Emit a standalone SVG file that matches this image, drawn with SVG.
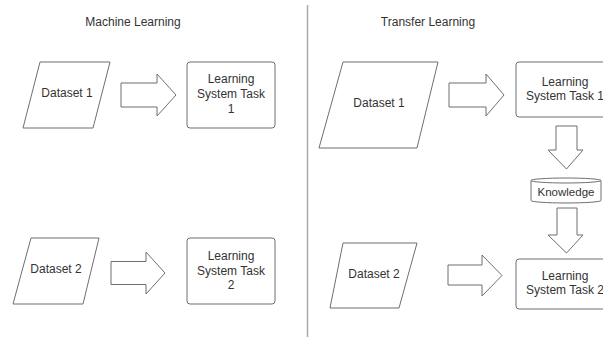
<svg xmlns="http://www.w3.org/2000/svg" width="603" height="337" viewBox="0 0 603 337">
<style>
.shape{fill:#fff;stroke:#6f6f6f;stroke-width:1;stroke-linejoin:round}
.t{font-family:"Liberation Sans",Arial,sans-serif;font-size:12px;fill:#333;text-anchor:middle}
.div{stroke:#aaa;stroke-width:1.5}
</style>
<rect width="603" height="337" fill="#fff"/>
<line class="div" x1="307.5" y1="5" x2="307.5" y2="337"/>
<text class="t" x="133" y="26">Machine Learning</text>
<text class="t" x="428" y="26">Transfer Learning</text>

<g id="ml-dataset1">
<path class="shape" d="M40,62 H110 L93,128 H23 Z"/>
<text class="t" x="67" y="97">Dataset 1</text>
</g>
<g id="ml-task1">
<rect class="shape" x="187" y="62" width="88" height="66" rx="3"/>
<text class="t" x="231" y="83">Learning</text>
<text class="t" x="231" y="98">System Task</text>
<text class="t" x="231" y="113">1</text>
</g>
<g id="ml-dataset2">
<path class="shape" d="M31,238 H99 L83,304 H13 Z"/>
<text class="t" x="56" y="273">Dataset 2</text>
</g>
<g id="ml-task2">
<rect class="shape" x="187" y="238" width="88" height="66" rx="3"/>
<text class="t" x="231" y="260">Learning</text>
<text class="t" x="231" y="274.5">System Task</text>
<text class="t" x="231" y="289">2</text>
</g>

<g id="tl-dataset1">
<path class="shape" d="M343,62 H438 L417,148 H319 Z"/>
<text class="t" x="379" y="107">Dataset 1</text>
</g>
<g id="tl-task1">
<rect class="shape" x="516" y="62" width="100" height="55" rx="3"/>
<text class="t" x="565" y="86">Learning</text>
<text class="t" x="565" y="100">System Task 1</text>
</g>
<g id="tl-knowledge">
<path class="shape" d="M531,180.5 V200.5 A35,2.5 0 0 0 601,200.5 V180.5 A35,2.5 0 0 0 531,180.5 A35,2.5 0 0 0 601,180.5"/>
<text class="t" x="566" y="196" style="font-size:11.5px">Knowledge</text>
</g>
<g id="tl-dataset2">
<path class="shape" d="M343,243 H417 L399,308 H330 Z"/>
<text class="t" x="374" y="278">Dataset 2</text>
</g>
<g id="tl-task2">
<rect class="shape" x="516" y="259" width="100" height="50" rx="3"/>
<text class="t" x="565" y="280">Learning</text>
<text class="t" x="565" y="294">System Task 2</text>
</g>

<g id="connectors">
<path class="shape" d="M121,83 H157 V74 L176,95 L157,116 V107 H121 Z"/>
<path class="shape" d="M111,261.5 H146 V252 L165,273 L146,294 V284.5 H111 Z"/>
<path class="shape" d="M449,83 H486 V74 L504,95 L486,116 V107 H449 Z"/>
<path class="shape" d="M448,265 H482 V255 L502,275.5 L482,296 V285 H448 Z"/>
<path class="shape" d="M556,126 H577 V150 H583 L566.5,169 L548,150 H556 Z"/>
<path class="shape" d="M557,208 H577 V235 H583 L566.5,253 L548,235 H557 Z"/>
</g>
</svg>
